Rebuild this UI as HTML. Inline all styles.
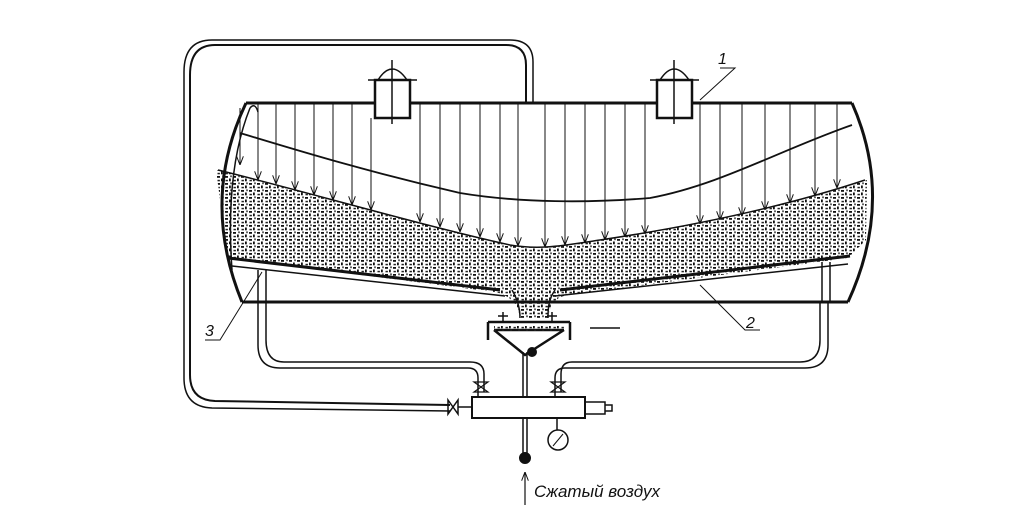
<!DOCTYPE html>
<html><head><meta charset="utf-8"><style>
html,body{margin:0;padding:0;background:#fff;width:1024px;height:512px;overflow:hidden}
svg{display:block}
</style></head><body>
<svg width="1024" height="512" viewBox="0 0 1024 512" xmlns="http://www.w3.org/2000/svg">
<defs>
<pattern id="sand" width="8" height="7" patternUnits="userSpaceOnUse">
<rect x="1" y="1" width="3" height="1.8" fill="#111"/>
<rect x="5" y="3.5" width="1.8" height="2.8" fill="#111"/>
<rect x="1.5" y="4.8" width="2.4" height="1.5" fill="#222"/>
<rect x="6.3" y="0.4" width="1.4" height="1.8" fill="#222"/>
</pattern>
<marker id="ah" markerWidth="9" markerHeight="7" refX="9" refY="3.5" orient="auto" markerUnits="userSpaceOnUse">
<path d="M0,0 L9,3.5 L0,7" fill="none" stroke="#111" stroke-width="1"/>
</marker>
</defs>
<g fill="none" stroke="#111" stroke-width="2">
<path d="M526,103 V65 Q526,45 506,45 H215 Q190,45 190,75 V375 Q190,400 215,401 L450,405"/>
<path d="M533,103 V62 Q533,40 510,40 H212 Q184,40 184,72 V378 Q184,407 212,408 L450,411" stroke-width="1.5"/>
<path d="M216,170 C300,190 420,225 510,245 C540,250 560,246 600,240 C700,225 790,205 867,180 L866,240 L848,258 L570,295 C555,296 550,305 548,318 H520 C518,305 512,296 495,292 L228,258 Z" fill="url(#sand)" stroke="none"/>
<path d="M218,170 C300,190 420,225 510,245 C540,250 560,246 600,240 C700,225 790,205 865,180" stroke-width="1.5"/>
<path d="M246,103 H852" stroke-width="3"/>
<path d="M246,103 Q200,200 242,302" stroke-width="3"/>
<path d="M852,103 Q895,200 848,302" stroke-width="3"/>
<path d="M242,302 H848" stroke-width="3"/>
<path d="M250,108 Q225,170 232,270" stroke-width="1.5"/>
<path d="M250,108 Q255,102 258,112" stroke-width="1.5"/>
<path d="M240,133 C290,148 360,170 460,193 C520,203 590,203 650,198 C720,185 780,150 852,125" stroke-width="1.8"/>
<path d="M228,258 L500,290 M560,290 L850,256" stroke-width="3"/>
<path d="M232,266 L505,296 M555,296 L848,264" stroke-width="1.5"/>
<path d="M512,290 C518,300 520,310 520,318 M555,290 C548,300 548,310 548,318" stroke-width="1.5"/>
<path d="M258,270 V302 M266,270 V302 M822,262 V302 M830,262 V302" stroke-width="1.5"/>
<rect x="375" y="80" width="35" height="38" fill="#fff" stroke-width="2.5"/>
<path d="M368,80 H417 M378,80 Q392,58 407,80 M392,60 V124" stroke-width="1.5"/>
<rect x="657" y="80" width="35" height="38" fill="#fff" stroke-width="2.5"/>
<path d="M650,80 H699 M660,80 Q674,58 689,80 M674,60 V124" stroke-width="1.5"/>
</g>
<g stroke="#111" stroke-width="1" marker-end="url(#ah)">
<line x1="240" y1="108" x2="240" y2="165"/>
<line x1="258" y1="104" x2="258" y2="180"/>
<line x1="276" y1="104" x2="276" y2="184"/>
<line x1="295" y1="104" x2="295" y2="190"/>
<line x1="314" y1="104" x2="314" y2="195"/>
<line x1="333" y1="104" x2="333" y2="200"/>
<line x1="352" y1="104" x2="352" y2="205"/>
<line x1="371" y1="118" x2="371" y2="210"/>
<line x1="420" y1="104" x2="420" y2="222"/>
<line x1="440" y1="104" x2="440" y2="227"/>
<line x1="460" y1="104" x2="460" y2="232"/>
<line x1="480" y1="104" x2="480" y2="237"/>
<line x1="500" y1="104" x2="500" y2="242"/>
<line x1="518" y1="104" x2="518" y2="246"/>
<line x1="545" y1="104" x2="545" y2="247"/>
<line x1="565" y1="104" x2="565" y2="245"/>
<line x1="585" y1="104" x2="585" y2="243"/>
<line x1="605" y1="104" x2="605" y2="240"/>
<line x1="625" y1="104" x2="625" y2="237"/>
<line x1="645" y1="104" x2="645" y2="234"/>
<line x1="700" y1="104" x2="700" y2="224"/>
<line x1="720" y1="104" x2="720" y2="220"/>
<line x1="742" y1="104" x2="742" y2="216"/>
<line x1="765" y1="104" x2="765" y2="210"/>
<line x1="790" y1="104" x2="790" y2="203"/>
<line x1="815" y1="104" x2="815" y2="196"/>
<line x1="837" y1="104" x2="837" y2="188"/>
</g>
<g fill="none" stroke="#111" stroke-width="2">
<path d="M488,322 H570 M488,322 V340 M570,322 V340 M494,330 H564 M494,330 L525,355 L564,330" stroke-width="2.5"/>
<rect x="494" y="326" width="70" height="5" fill="url(#sand)" stroke="none"/>
<path d="M503,312 V322 M498,316 H508 M552,312 V322 M547,316 H557" stroke-width="1.5"/>
<circle cx="532" cy="352" r="4" fill="#111"/>
<path d="M523,352 V397 M527,352 V397" stroke-width="1.5"/>
<path d="M590,328 H620" stroke-width="1.5"/>
<rect x="472" y="397" width="113" height="21" fill="#fff"/>
<path d="M585,402 H605 V414 H585 M605,405 H612 V411 H605" stroke-width="1.5"/>
<path d="M523,418 V455 M527,418 V455" stroke-width="1.5"/>
<circle cx="525" cy="458" r="5" fill="#111"/>
<path d="M557,418 V430" stroke-width="1.5"/>
<circle cx="558" cy="440" r="10" stroke-width="1.5"/>
<path d="M553,446 L563,434" stroke-width="1"/>
<path d="M448,400 L458,414 V400 L448,414 Z" stroke-width="1.5"/>
<path d="M458,407 H472" stroke-width="1.5"/>
<path d="M478,397 V378 Q478,368 468,368 H280 Q258,368 258,345 V302" stroke-width="1.5"/>
<path d="M484,392 V374 Q484,362 470,362 H284 Q266,362 266,340 V302" stroke-width="1.5"/>
<path d="M555,397 V378 Q555,368 565,368 H805 Q828,368 828,345 V302" stroke-width="1.5"/>
<path d="M561,392 V374 Q561,362 572,362 H800 Q820,362 820,340 V302" stroke-width="1.5"/>
<path d="M474,382 L488,392 H474 L488,382 Z" stroke-width="1.2"/>
<path d="M551,382 L565,392 H551 L565,382 Z" stroke-width="1.2"/>
<path d="M700,100 L735,68 H720" stroke-width="1"/>
<path d="M700,285 L745,330 H760" stroke-width="1"/>
<path d="M205,340 L220,340 L262,272" stroke-width="1"/>
</g>
<line x1="525" y1="505" x2="525" y2="472" stroke="#111" stroke-width="1.2" marker-end="url(#ah)"/>
<g font-family="Liberation Sans, sans-serif" font-style="italic" fill="#111">
<text x="718" y="64" font-size="16">1</text>
<text x="746" y="328" font-size="16">2</text>
<text x="205" y="336" font-size="16">3</text>
<text x="534" y="497" font-size="17">Сжатый воздух</text>
</g>
</svg>
</body></html>
